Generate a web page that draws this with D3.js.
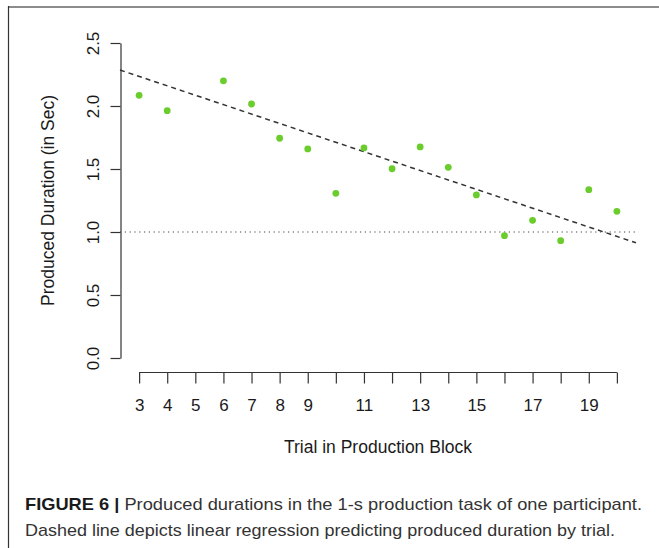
<!DOCTYPE html>
<html>
<head>
<meta charset="utf-8">
<script src="https://cdn.jsdelivr.net/npm/d3@7"></script>
<style>
  html, body { margin: 0; padding: 0; background: #fff; }
  svg { display: block; font-family: "Liberation Sans", Arial, Helvetica, sans-serif; }
</style>
</head>
<body>
<svg id="chart" width="659" height="548"></svg>
<script>
// ---- data ----
const trials = [3, 4, 6, 7, 8, 9, 10, 11, 12, 13, 14, 15, 16, 17, 18, 19, 20];
const durations = [2.085, 1.963, 2.20, 2.016, 1.744, 1.659, 1.307, 1.667, 1.502, 1.675, 1.513, 1.294, 0.971, 1.093, 0.931, 1.336, 1.164];
const xTicks = [3, 4, 5, 6, 7, 8, 9, 10, 11, 12, 13, 14, 15, 16, 17, 18, 19, 20];
const xTickLabels = [3, 4, 5, 6, 7, 8, 9, 11, 13, 15, 17, 19];
const yTicks = [0, 0.5, 1.0, 1.5, 2.0, 2.5];
const regressionIntercept = 2.459;   // value at trial 0
const regressionSlope = -0.0747;     // per trial
const referenceDuration = 1.0;
const xTitle = "Trial in Production Block";
const yTitle = "Produced Duration (in Sec)";
const captionBold = "FIGURE 6 |";
const captionLine1 = " Produced durations in the 1-s production task of one participant.";
const captionLine2 = "Dashed line depicts linear regression predicting produced duration by trial.";

// ---- layout ----
const svg = d3.select("#chart");
const x = d3.scaleLinear().domain([2.32, 20.68]).range([120, 636]);
const y = d3.scaleLinear().domain([0, 2.5]).range([358, 43]);
const axisColor = "#333";
const textColor = "#1a1a1a";

// frame
svg.append("line").attr("x1", 8).attr("x2", 659).attr("y1", 7).attr("y2", 7)
  .attr("stroke", "#8c8c8c").attr("stroke-width", 2);
svg.append("line").attr("x1", 8.5).attr("x2", 8.5).attr("y1", 6).attr("y2", 548)
  .attr("stroke", "#333").attr("stroke-width", 1.2);

// y axis
const yAxis = svg.append("g").attr("transform", "translate(120.5,0)")
  .call(d3.axisLeft(y).tickValues(yTicks).tickSize(10).tickSizeOuter(0).tickFormat(d3.format(".1f")));
yAxis.select(".domain").attr("stroke", axisColor).attr("stroke-width", 1.2);
yAxis.selectAll(".tick line").attr("stroke", axisColor).attr("stroke-width", 1.2);
yAxis.selectAll(".tick text")
  .attr("transform", "rotate(-90)")
  .attr("x", 0).attr("y", -22).attr("dy", 0)
  .attr("text-anchor", "middle")
  .attr("font-size", 17).attr("fill", textColor);

// x axis (ticks only between first and last tick, R style)
const xAxis = svg.append("g").attr("transform", "translate(0,372.5)")
  .call(d3.axisBottom(x).tickValues(xTicks).tickSize(11).tickSizeOuter(0)
    .tickFormat(d => xTickLabels.includes(d) ? d : ""));
xAxis.select(".domain").remove();
xAxis.append("line").attr("x1", x(xTicks[0])).attr("x2", x(xTicks[xTicks.length - 1]))
  .attr("y1", 0).attr("y2", 0).attr("stroke", axisColor).attr("stroke-width", 1.2);
xAxis.selectAll(".tick line").attr("stroke", axisColor).attr("stroke-width", 1.2);
xAxis.selectAll(".tick text").attr("y", 38).attr("dy", 0)
  .attr("font-size", 17).attr("fill", textColor);

// axis titles
svg.append("text").attr("x", 378).attr("y", 453).attr("text-anchor", "middle")
  .attr("font-size", 17.5).attr("fill", textColor).text(xTitle);
svg.append("text").attr("transform", "translate(54,200.5) rotate(-90)")
  .attr("text-anchor", "middle").attr("font-size", 17.5).attr("fill", textColor).text(yTitle);

// reference dotted line at 1.0
const xd = x.domain();
svg.append("line").attr("x1", x(xd[0])).attr("x2", x(xd[1]))
  .attr("y1", y(referenceDuration)).attr("y2", y(referenceDuration))
  .attr("stroke", "#444").attr("stroke-width", 1.2).attr("stroke-dasharray", "1.2,3.6");

// regression dashed line
const reg = t => regressionIntercept + regressionSlope * t;
svg.append("line").attr("x1", x(xd[0])).attr("x2", x(xd[1]))
  .attr("y1", y(reg(xd[0]))).attr("y2", y(reg(xd[1])))
  .attr("stroke", "#333").attr("stroke-width", 1.5).attr("stroke-dasharray", "5,4");

// points
svg.append("g").selectAll("circle").data(trials).join("circle")
  .attr("cx", d => x(d)).attr("cy", (d, i) => y(durations[i]))
  .attr("r", 3.4).attr("fill", "#6acd2c");

// caption
const cap1 = svg.append("text").attr("x", 25).attr("y", 510).attr("font-size", 17)
  .attr("fill", "#333").attr("textLength", 617).attr("lengthAdjust", "spacingAndGlyphs");
cap1.append("tspan").attr("font-weight", "bold").attr("fill", "#1a1a1a").text(captionBold);
cap1.append("tspan").text(captionLine1);
svg.append("text").attr("x", 25).attr("y", 536).attr("font-size", 17)
  .attr("fill", "#333").attr("textLength", 590).attr("lengthAdjust", "spacingAndGlyphs")
  .text(captionLine2);
</script>
</body>
</html>
